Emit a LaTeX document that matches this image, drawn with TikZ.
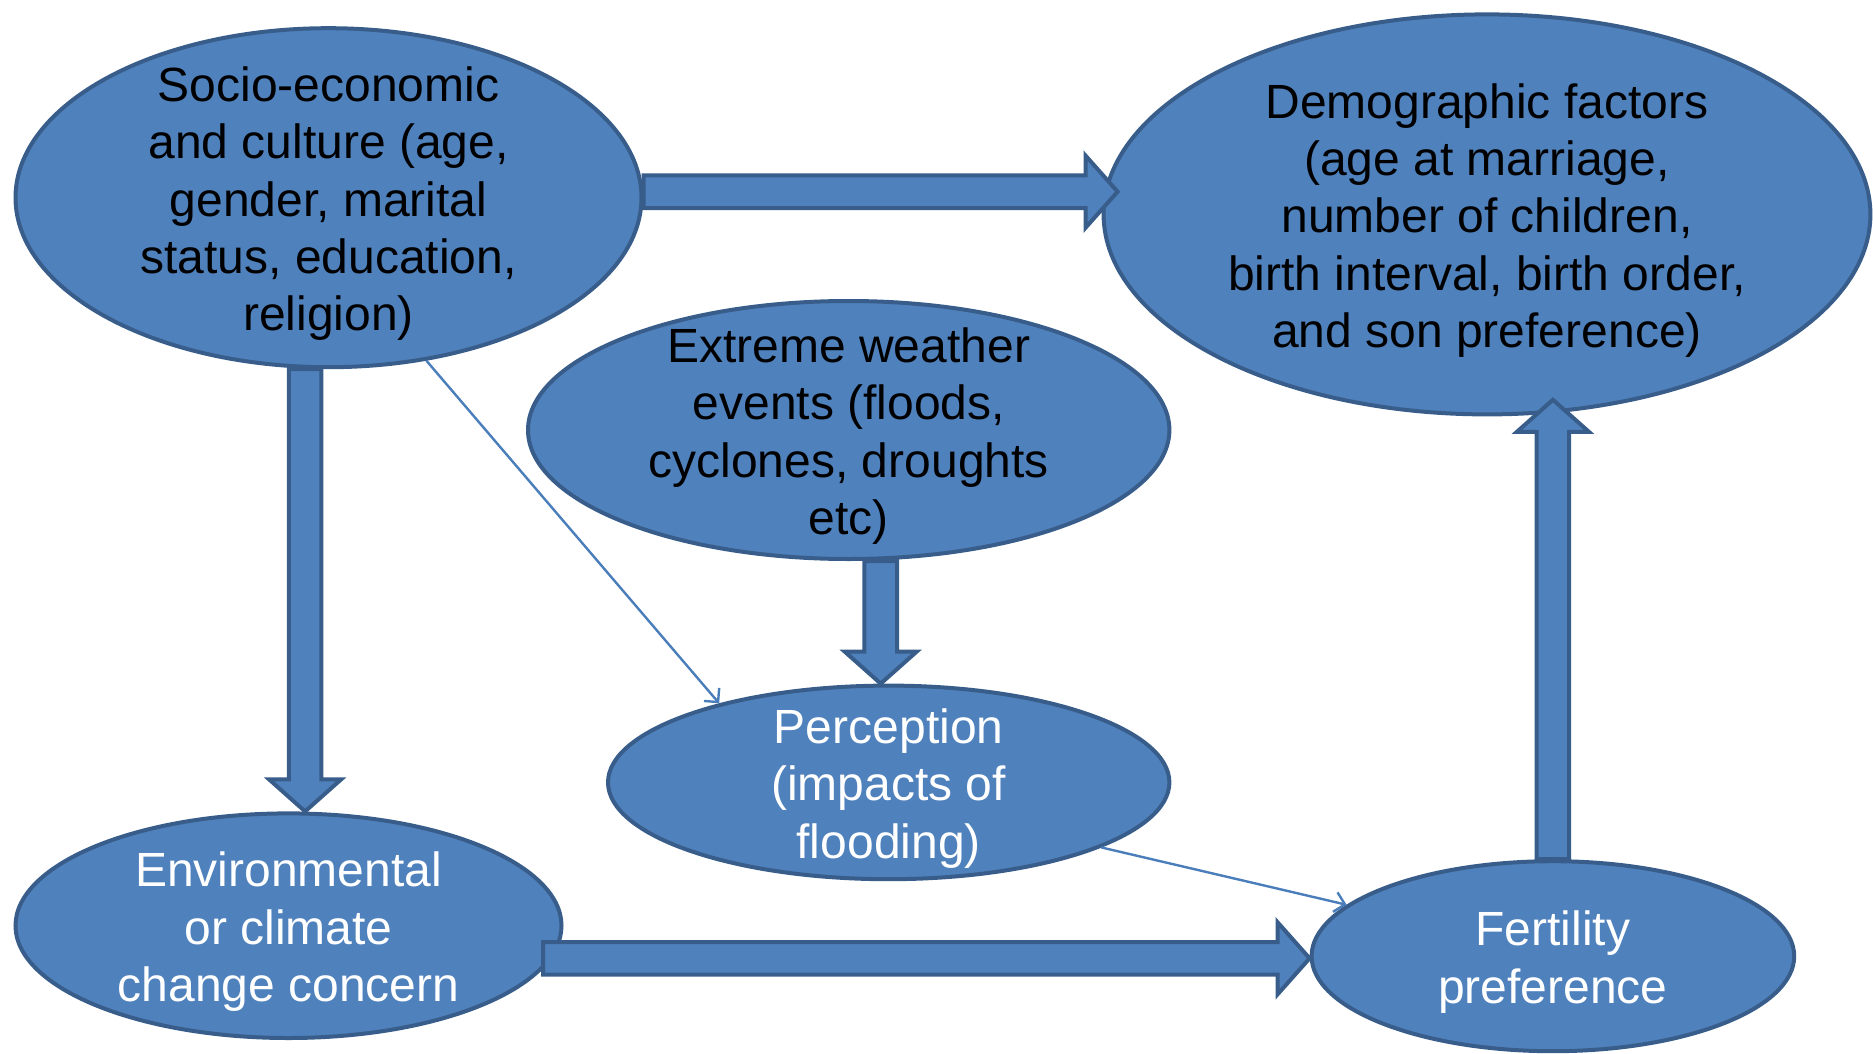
\documentclass[tikz,border=0pt]{standalone}
\usepackage{fontspec}
\setmainfont{Liberation Sans}
\usetikzlibrary{shapes.geometric,calc,arrows.meta}
\definecolor{fillcol}{HTML}{4F81BD}
\definecolor{bordercol}{HTML}{385D8A}
\definecolor{thincol}{HTML}{4A7EBB}
\tikzset{
  oval/.style={ellipse, draw=bordercol, fill=fillcol, line width=2pt, inner sep=0pt},
  ovaltext/.style={font=\fontsize{24}{28.7}\selectfont, align=center, inner sep=0pt, yshift=-3pt},
  blockarrow/.style={draw=bordercol, fill=fillcol, line width=2pt, line join=miter,
    to path={let \p1=(\tikztostart), \p2=(\tikztotarget), \n1={atan2(\y2-\y1,\x2-\x1)} in
      ($(\p1)+(\n1+90:8.15pt)$) -- ($(\p2)+(\n1+180:16pt)+(\n1+90:8.15pt)$)
      -- ($(\p2)+(\n1+180:16pt)+(\n1+90:18pt)$) -- (\p2)
      -- ($(\p2)+(\n1+180:16pt)+(\n1-90:18pt)$) -- ($(\p2)+(\n1+180:16pt)+(\n1-90:8.15pt)$)
      -- ($(\p1)+(\n1-90:8.15pt)$) -- cycle}},
  thinarrow/.style={draw=thincol, line width=1.2pt, -{Straight Barb[length=5pt,width=10pt]}}
}
\begin{document}
\begin{tikzpicture}[x=0.5pt,y=-0.5pt]
\useasboundingbox (0,0) rectangle (1873,1054);
\node[oval, minimum width=313pt, minimum height=169.5pt,
  label={[ovaltext]center:Socio-economic\\and culture (age,\\gender, marital\\status, education,\\religion)}]
  (socio) at (328.5,197.7) {};
\node[oval, minimum width=383.4pt, minimum height=200pt,
  label={[ovaltext]center:Demographic factors\\(age at marriage,\\number of children,\\birth interval, birth order,\\and son preference)}]
  (demo) at (1487,214.4) {};
\node[oval, minimum width=320.7pt, minimum height=129pt,
  label={[ovaltext]center:Extreme weather\\events (floods,\\cyclones, droughts\\etc)}]
  (ext) at (848.7,430) {};
\node[oval, minimum width=280.7pt, minimum height=96.8pt,
  label={[ovaltext,text=white]center:Perception\\(impacts of\\flooding)}]
  (perc) at (888.7,782.4) {};
\node[oval, minimum width=273pt, minimum height=112.3pt,
  label={[ovaltext,text=white]center:Environmental\\or climate\\change concern}]
  (env) at (288.5,925.7) {};
\node[oval, minimum width=241.3pt, minimum height=95pt,
  label={[ovaltext,text=white]center:Fertility\\preference}]
  (fert) at (1552.9,956.2) {};
% block arrows
\coordinate (aS) at ([yshift=3pt]socio.east);
\draw[blockarrow] (aS) to ([xshift=8pt]demo.west |- aS);
\coordinate (bS) at ([xshift=-11.7pt]socio.south);
\draw[blockarrow] (bS) to (bS |- env.north);
\coordinate (cS) at ([xshift=16pt]ext.south);
\draw[blockarrow] (cS) to (cS |- perc.north);
\coordinate (dS) at ([xshift=-10.25pt,yshift=-16.3pt]env.east);
\draw[blockarrow] (dS) to (fert.west |- dS);
\coordinate (eS) at (fert.north);
\draw[blockarrow] (eS) to ([yshift=8.3pt]demo.south -| eS);
% thin arrows
\draw[thinarrow] (socio.-59) -- (perc.155);
\draw[thinarrow] (perc.-17.6) -- (fert.166);
\end{tikzpicture}
\end{document}
